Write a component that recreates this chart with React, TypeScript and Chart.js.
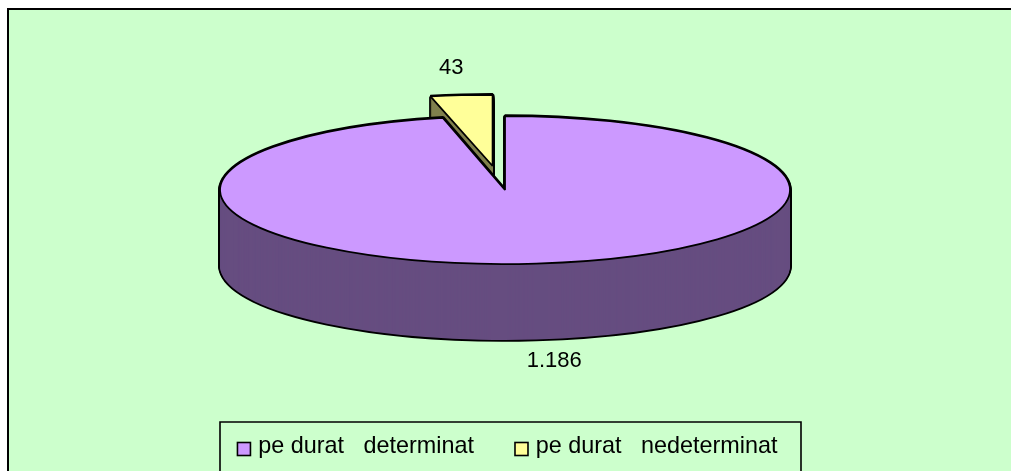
import { useEffect, useRef } from "react";
import { Chart, registerables } from "chart.js";

Chart.register(...registerables);

const categories = ["pe durat   determinat", "pe durat   nedeterminat"];
const values = [1186, 43];
const valueLabels = ["1.186", "43"];
const topColors = ["#CC99FF", "#FFFF99"];
const wallColors = ["#664D80", "#80804D"];

const FONT = "'Liberation Sans', Arial, sans-serif";
const CX = 505;
const CY = 190;
const RADIUS = 285;
const TILTS = [0.2596, 0.25];
const DEPTH = 76;
const EXPLODE = [
  [0, 0],
  [-12.4, -96],
];
const LABEL_SHIFT = [
  [18, 21],
  [-10, -27],
];

const pie3d = {
  id: "pie3d",
  beforeDraw(chart: any) {
    const { ctx, width, height } = chart;
    ctx.save();
    ctx.fillStyle = "#FFFFFF";
    ctx.fillRect(0, 0, width, height);
    ctx.fillStyle = "#CCFFCC";
    ctx.fillRect(8, 9, width - 8, height - 9);
    ctx.strokeStyle = "#000000";
    ctx.lineWidth = 2;
    ctx.beginPath();
    ctx.moveTo(8, height);
    ctx.lineTo(8, 9);
    ctx.lineTo(width, 9);
    ctx.stroke();
    ctx.restore();
  },
  beforeDatasetDraw(chart: any, args: any) {
    const ctx = chart.ctx;
    const arcs = args.meta.data;
    const proto = CanvasRenderingContext2D.prototype;
    ctx.save();
    // strokes keep an even width although the circle is squashed into an ellipse
    ctx.stroke = function (...a: any[]) {
      ctx.save();
      ctx.setTransform(1, 0, 0, 1, 0, 0);
      proto.stroke.apply(ctx, a as any);
      ctx.restore();
    };
    const base = { offset: 0, spacing: 0, circular: true, borderRadius: 0, borderAlign: "center" };
    const paint = (i: number, d: number, options: any) => {
      const el = arcs[i];
      const [dx, dy] = EXPLODE[i];
      const k = TILTS[i];
      ctx.setTransform(1, 0, 0, k, CX - el.x + dx, CY - k * el.y + k * dy + d);
      const clone = Object.create(el, { options: { value: options, writable: true } });
      el.draw.call(clone, ctx);
    };
    [1, 0].forEach((i) => {
      for (let d = DEPTH; d >= 0; d--) {
        paint(i, d, { ...base, backgroundColor: "#000000", borderColor: "#000000", borderWidth: 3.6 });
      }
      for (let d = DEPTH; d >= 0; d--) {
        paint(i, d, { ...base, backgroundColor: wallColors[i], borderColor: wallColors[i], borderWidth: 0 });
      }
      paint(i, 0, { ...base, backgroundColor: topColors[i], borderColor: "#000000", borderWidth: 1.8 });
    });
    delete ctx.stroke;
    ctx.restore();
    return false;
  },
  afterDraw(chart: any) {
    const { ctx, height } = chart;
    const arcs = chart.getDatasetMeta(0).data;
    ctx.save();
    ctx.font = `22px ${FONT}`;
    ctx.fillStyle = "#000000";
    ctx.textAlign = "center";
    ctx.textBaseline = "middle";
    arcs.forEach((el: any, i: number) => {
      const mid = (el.startAngle + el.endAngle) / 2;
      const x = CX + EXPLODE[i][0] + Math.cos(mid) * RADIUS + LABEL_SHIFT[i][0];
      const y =
        CY + TILTS[i] * (EXPLODE[i][1] + Math.sin(mid) * RADIUS) + (i === 0 ? DEPTH : 0) + LABEL_SHIFT[i][1];
      ctx.fillText(valueLabels[i], x, y);
    });
    // legend frame and square markers
    ctx.strokeStyle = "#000000";
    ctx.lineWidth = 1.6;
    ctx.beginPath();
    ctx.moveTo(220, height + 2);
    ctx.lineTo(220, 422);
    ctx.lineTo(801, 422);
    ctx.lineTo(801, height + 2);
    ctx.stroke();
    chart.legend.legendHitBoxes.forEach((box: any, i: number) => {
      ctx.fillStyle = topColors[i];
      ctx.fillRect(box.left, 442.5, 13, 13);
      ctx.strokeRect(box.left, 442.5, 13, 13);
    });
    ctx.restore();
  },
};

export default function App() {
  const ref = useRef<HTMLCanvasElement | null>(null);
  useEffect(() => {
    document.body.style.margin = "0";
    const chart = new Chart(ref.current as HTMLCanvasElement, {
      type: "pie",
      data: {
        labels: categories,
        datasets: [
          {
            data: values,
            backgroundColor: topColors,
            borderColor: "#000000",
            borderWidth: 1.8,
          },
        ],
      },
      options: {
        responsive: false,
        animation: false,
        events: [],
        radius: RADIUS,
        layout: { padding: { bottom: 3, left: 4 } },
        plugins: {
          tooltip: { enabled: false },
          legend: {
            display: true,
            position: "bottom",
            labels: {
              boxWidth: 9,
              boxHeight: 13,
              padding: 41,
              color: "#000000",
              font: { family: FONT, size: 23.4 },
              generateLabels: () =>
                categories.map((text, index) => ({
                  text,
                  index,
                  fillStyle: "transparent",
                  strokeStyle: "transparent",
                  lineWidth: 0,
                  hidden: false,
                })),
            },
          },
        },
      },
      plugins: [pie3d],
    } as any);
    return () => chart.destroy();
  }, []);
  return (
    <div style={{ width: 1011, height: 471 }}>
      <canvas ref={ref} width={1011} height={471} style={{ display: "block" }} />
    </div>
  );
}
